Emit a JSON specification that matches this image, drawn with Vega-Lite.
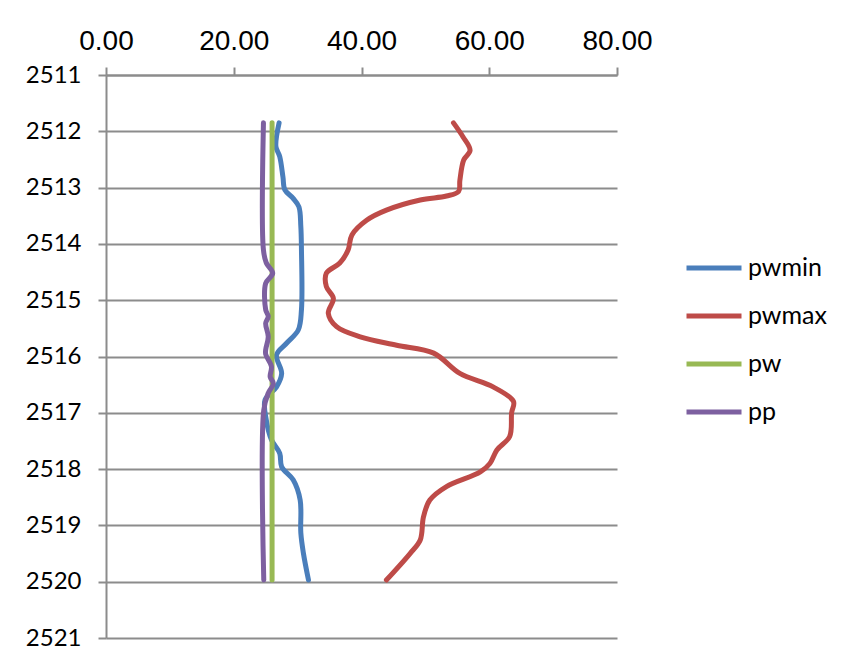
{
  "$schema": "https://vega.github.io/schema/vega-lite/v6.json",
  "width": 511,
  "height": 563,
  "autosize": "none",
  "padding": {"left": 106, "top": 75, "right": 225, "bottom": 24},
  "background": "white",
  "config": {
    "view": {"stroke": null},
    "font": "Lato",
    "axis": {
      "labelFont": "Lato",
      "labelColor": "#000000",
      "labelFontSize": 24,
      "labelFontWeight": "normal",
      "domainColor": "#8C8C8C",
      "domainWidth": 2,
      "tickColor": "#8C8C8C",
      "tickWidth": 2,
      "tickSize": 8,
      "gridColor": "#8C8C8C",
      "gridWidth": 2,
      "gridOpacity": 1,
      "title": null
    },
    "legend": {
      "labelFont": "Lato",
      "labelFontSize": 25,
      "labelColor": "#000000"
    }
  },
  "data": {
    "values": [
      {"series": "pwmin", "depth": 2511.85, "value": 27.1},
      {"series": "pwmin", "depth": 2512.27, "value": 26.6},
      {"series": "pwmin", "depth": 2512.45, "value": 27.2},
      {"series": "pwmin", "depth": 2512.81, "value": 27.7},
      {"series": "pwmin", "depth": 2513.04, "value": 28.0},
      {"series": "pwmin", "depth": 2513.19, "value": 29.3},
      {"series": "pwmin", "depth": 2513.34, "value": 30.2},
      {"series": "pwmin", "depth": 2513.69, "value": 30.5},
      {"series": "pwmin", "depth": 2514.11, "value": 30.6},
      {"series": "pwmin", "depth": 2515.17, "value": 30.6},
      {"series": "pwmin", "depth": 2515.53, "value": 30.1},
      {"series": "pwmin", "depth": 2515.76, "value": 28.3},
      {"series": "pwmin", "depth": 2515.97, "value": 26.7},
      {"series": "pwmin", "depth": 2516.3, "value": 27.5},
      {"series": "pwmin", "depth": 2516.54, "value": 26.7},
      {"series": "pwmin", "depth": 2516.77, "value": 24.9},
      {"series": "pwmin", "depth": 2517.13, "value": 25.1},
      {"series": "pwmin", "depth": 2517.48, "value": 25.9},
      {"series": "pwmin", "depth": 2517.72, "value": 27.2},
      {"series": "pwmin", "depth": 2517.96, "value": 27.5},
      {"series": "pwmin", "depth": 2518.19, "value": 29.3},
      {"series": "pwmin", "depth": 2518.55, "value": 30.4},
      {"series": "pwmin", "depth": 2519.13, "value": 30.5},
      {"series": "pwmin", "depth": 2519.49, "value": 30.9},
      {"series": "pwmin", "depth": 2519.97, "value": 31.7},

      {"series": "pwmax", "depth": 2511.85, "value": 54.4},
      {"series": "pwmax", "depth": 2512.1, "value": 55.9},
      {"series": "pwmax", "depth": 2512.34, "value": 57.0},
      {"series": "pwmax", "depth": 2512.51, "value": 56.0},
      {"series": "pwmax", "depth": 2512.87, "value": 55.4},
      {"series": "pwmax", "depth": 2513.07, "value": 55.2},
      {"series": "pwmax", "depth": 2513.15, "value": 53.3},
      {"series": "pwmax", "depth": 2513.22, "value": 49.2},
      {"series": "pwmax", "depth": 2513.4, "value": 43.9},
      {"series": "pwmax", "depth": 2513.58, "value": 40.8},
      {"series": "pwmax", "depth": 2513.84, "value": 38.5},
      {"series": "pwmax", "depth": 2514.11, "value": 37.9},
      {"series": "pwmax", "depth": 2514.34, "value": 36.6},
      {"series": "pwmax", "depth": 2514.52, "value": 34.5},
      {"series": "pwmax", "depth": 2514.76, "value": 34.5},
      {"series": "pwmax", "depth": 2514.97, "value": 35.6},
      {"series": "pwmax", "depth": 2515.23, "value": 34.8},
      {"series": "pwmax", "depth": 2515.47, "value": 36.1},
      {"series": "pwmax", "depth": 2515.65, "value": 39.8},
      {"series": "pwmax", "depth": 2515.8, "value": 45.5},
      {"series": "pwmax", "depth": 2515.94, "value": 51.3},
      {"series": "pwmax", "depth": 2516.3, "value": 55.4},
      {"series": "pwmax", "depth": 2516.54, "value": 60.6},
      {"series": "pwmax", "depth": 2516.8, "value": 63.8},
      {"series": "pwmax", "depth": 2517.0, "value": 63.5},
      {"series": "pwmax", "depth": 2517.42, "value": 63.2},
      {"series": "pwmax", "depth": 2517.66, "value": 61.2},
      {"series": "pwmax", "depth": 2517.9, "value": 60.1},
      {"series": "pwmax", "depth": 2518.05, "value": 58.6},
      {"series": "pwmax", "depth": 2518.31, "value": 53.3},
      {"series": "pwmax", "depth": 2518.55, "value": 50.7},
      {"series": "pwmax", "depth": 2518.85, "value": 49.7},
      {"series": "pwmax", "depth": 2519.26, "value": 49.2},
      {"series": "pwmax", "depth": 2519.5, "value": 47.6},
      {"series": "pwmax", "depth": 2519.97, "value": 43.9},

      {"series": "pw", "depth": 2511.85, "value": 26.0},
      {"series": "pw", "depth": 2519.97, "value": 26.0},

      {"series": "pp", "depth": 2511.85, "value": 24.65},
      {"series": "pp", "depth": 2514.11, "value": 24.65},
      {"series": "pp", "depth": 2514.34, "value": 25.1},
      {"series": "pp", "depth": 2514.52, "value": 26.1},
      {"series": "pp", "depth": 2514.7, "value": 25.0},
      {"series": "pp", "depth": 2515.17, "value": 25.0},
      {"series": "pp", "depth": 2515.29, "value": 25.4},
      {"series": "pp", "depth": 2515.41, "value": 25.0},
      {"series": "pp", "depth": 2515.65, "value": 25.4},
      {"series": "pp", "depth": 2515.88, "value": 25.0},
      {"series": "pp", "depth": 2515.96, "value": 25.0},
      {"series": "pp", "depth": 2516.18, "value": 25.9},
      {"series": "pp", "depth": 2516.36, "value": 25.7},
      {"series": "pp", "depth": 2516.48, "value": 26.2},
      {"series": "pp", "depth": 2516.65, "value": 25.4},
      {"series": "pp", "depth": 2516.95, "value": 24.7},
      {"series": "pp", "depth": 2519.97, "value": 24.7}
    ]
  },
  "mark": {"type": "line", "strokeWidth": 5, "strokeCap": "round", "strokeJoin": "round", "interpolate": "catmull-rom"},
  "encoding": {
    "x": {
      "field": "value",
      "type": "quantitative",
      "scale": {"domain": [0, 80], "nice": false, "zero": false},
      "axis": {"orient": "top", "values": [0, 20, 40, 60, 80], "format": ".2f", "grid": false, "labelPadding": 12, "labelFlush": false, "labelFont": "Liberation Sans", "labelFontSize": 28}
    },
    "y": {
      "field": "depth",
      "type": "quantitative",
      "scale": {"domain": [2511, 2521], "reverse": true, "nice": false, "zero": false},
      "axis": {"values": [2511, 2512, 2513, 2514, 2515, 2516, 2517, 2518, 2519, 2520, 2521], "format": "d", "grid": true, "labelPadding": 17, "labelFlush": false}
    },
    "color": {
      "field": "series",
      "type": "nominal",
      "scale": {"domain": ["pwmin", "pwmax", "pw", "pp"], "range": ["#4A7EBB", "#BE4B48", "#98B954", "#7D60A0"]},
      "legend": {
        "title": null,
        "orient": "none",
        "legendX": 578,
        "legendY": 163,
        "symbolType": "stroke",
        "symbolSize": 3025,
        "symbolStrokeWidth": 5,
        "rowPadding": 5,
        "labelOffset": 4
      }
    },
    "order": {"field": "depth", "type": "quantitative"}
  }
}
